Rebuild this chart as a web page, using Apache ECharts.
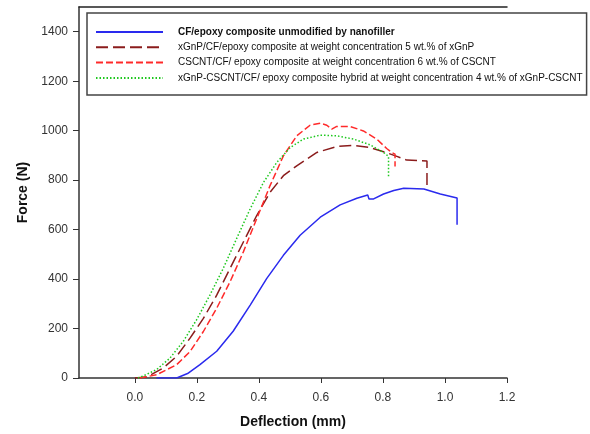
<!DOCTYPE html>
<html><head><meta charset="utf-8">
<script src="https://cdn.jsdelivr.net/npm/echarts@6/dist/echarts.min.js"></script>
<style>html,body{margin:0;padding:0;background:#fff}#c{width:590px;height:434px}</style>
</head><body><div id="c"></div>
<script>
var seriesNames = [
  'CF/epoxy composite unmodified by nanofiller',
  'xGnP/CF/epoxy composite at weight concentration 5 wt.% of xGnP',
  'CSCNT/CF/ epoxy composite at weight concentration 6 wt.% of CSCNT',
  'xGnP-CSCNT/CF/ epoxy composite hybrid at weight concentration 4 wt.% of xGnP-CSCNT'
];
var xTicks = [0.0, 0.2, 0.4, 0.6, 0.8, 1.0, 1.2];
var yTicks = [0, 200, 400, 600, 800, 1000, 1200, 1400];

var blueX = [0.07, 0.135, 0.17, 0.21, 0.264, 0.317, 0.372, 0.425, 0.479, 0.533, 0.598, 0.662, 0.716, 0.751, 0.755, 0.77, 0.802, 0.835, 0.867, 0.932, 0.985, 1.039, 1.039];
var blueY = [0, 0, 18, 54, 108, 189, 295, 402, 496, 577, 650, 700, 727, 740, 724, 724, 744, 758, 767, 764, 744, 728, 620];

var brownX = [0.0, 0.038, 0.091, 0.135, 0.178, 0.221, 0.264, 0.307, 0.35, 0.393, 0.436, 0.479, 0.522, 0.587, 0.651, 0.705, 0.758, 0.802, 0.845, 0.877, 0.942, 0.942];
var brownY = [0, 4, 40, 88, 161, 241, 335, 443, 550, 657, 751, 818, 858, 912, 936, 941, 932, 915, 896, 881, 877, 771];

var redX = [0.016, 0.07, 0.135, 0.178, 0.221, 0.264, 0.307, 0.35, 0.393, 0.436, 0.479, 0.522, 0.565, 0.598, 0.619, 0.635, 0.651, 0.694, 0.737, 0.78, 0.812, 0.828, 0.839, 0.839];
var redY = [0, 13, 54, 107, 188, 282, 389, 510, 644, 778, 898, 979, 1022, 1030, 1022, 1006, 1017, 1017, 999, 966, 928, 912, 905, 855];

var greenX = [0.01, 0.027, 0.07, 0.113, 0.156, 0.199, 0.242, 0.285, 0.328, 0.372, 0.415, 0.458, 0.501, 0.544, 0.598, 0.651, 0.705, 0.758, 0.802, 0.818, 0.818];
var greenY = [0, 8, 34, 80, 148, 235, 335, 443, 563, 684, 791, 872, 932, 966, 982, 979, 966, 943, 912, 896, 811];

function zip(xs, ys) { return xs.map(function (x, i) { return [x, ys[i]]; }); }

var chart = echarts.init(document.getElementById('c'), null, {renderer: 'canvas'});
var font = '"Liberation Sans", Arial, sans-serif';
chart.setOption({
  animation: false,
  backgroundColor: '#fff',
  textStyle: {fontFamily: font},
  grid: {left: 79, right: 83, top: 7, bottom: 54, containLabel: false},
  legend: {
    show: true,
    orient: 'vertical',
    left: 87, top: 13,
    padding: [14, 4, 12, 8],
    itemWidth: 67, itemHeight: 10, itemGap: 5.3,
    borderColor: '#444', borderWidth: 1.5,
    backgroundColor: '#fff',
    itemStyle: {opacity: 0},
    data: seriesNames,
    formatter: function (n) { return n === seriesNames[0] ? '{b|' + n + '}' : n; },
    textStyle: {
      fontFamily: font, fontSize: 10, color: '#111', padding: [0, 0, 0, 10],
      rich: {b: {fontFamily: font, fontSize: 10, fontWeight: 'bold', color: '#111'}}
    }
  },
  xAxis: [{
    type: 'value', min: -0.18, max: 1.2,
    name: 'Deflection (mm)', nameLocation: 'middle', nameGap: 37,
    nameTextStyle: {fontFamily: font, fontSize: 14, fontWeight: 'bold', color: '#111'},
    axisLine: {onZero: false, lineStyle: {color: '#333', width: 1.5}},
    axisTick: {show: true, inside: false, length: 5, customValues: xTicks, lineStyle: {color: '#333'}},
    axisLabel: {customValues: xTicks, margin: 14, fontSize: 12, color: '#333',
      formatter: function (v) { return v.toFixed(1); }},
    splitLine: {show: false}
  }, {
    type: 'value', position: 'top', min: -0.18, max: 1.2,
    axisLine: {show: true, onZero: false, lineStyle: {color: '#222', width: 1.5}},
    axisTick: {show: false}, axisLabel: {show: false}, splitLine: {show: false}
  }],
  yAxis: {
    type: 'value', min: 0, max: 1500,
    name: 'Force (N)', nameLocation: 'middle', nameGap: 47, nameRotate: 90,
    nameTextStyle: {fontFamily: font, fontSize: 14, fontWeight: 'bold', color: '#111'},
    axisLine: {show: true, onZero: false, lineStyle: {color: '#333', width: 1.5}},
    axisTick: {show: true, inside: false, length: 6, customValues: yTicks, lineStyle: {color: '#333'}},
    axisLabel: {customValues: yTicks, margin: 11, fontSize: 12, color: '#333',
      formatter: function (v) { return String(v); }},
    splitLine: {show: false}
  },
  series: [
    {name: seriesNames[0], type: 'line', symbol: 'none', data: zip(blueX, blueY),
      lineStyle: {color: '#2a2aee', width: 1.5, type: 'solid'}, itemStyle: {color: '#2a2aee'}},
    {name: seriesNames[1], type: 'line', symbol: 'none', data: zip(brownX, brownY),
      lineStyle: {color: '#8b1c1c', width: 1.5, type: [12, 5]}, itemStyle: {color: '#8b1c1c'}},
    {name: seriesNames[2], type: 'line', symbol: 'none', data: zip(redX, redY),
      lineStyle: {color: '#ff2a2a', width: 1.5, type: [7, 3]}, itemStyle: {color: '#ff2a2a'}},
    {name: seriesNames[3], type: 'line', symbol: 'none', data: zip(greenX, greenY),
      lineStyle: {color: '#1ec81e', width: 1.5, type: [1.5, 2]}, itemStyle: {color: '#1ec81e'}}
  ]
});
</script></body></html>
